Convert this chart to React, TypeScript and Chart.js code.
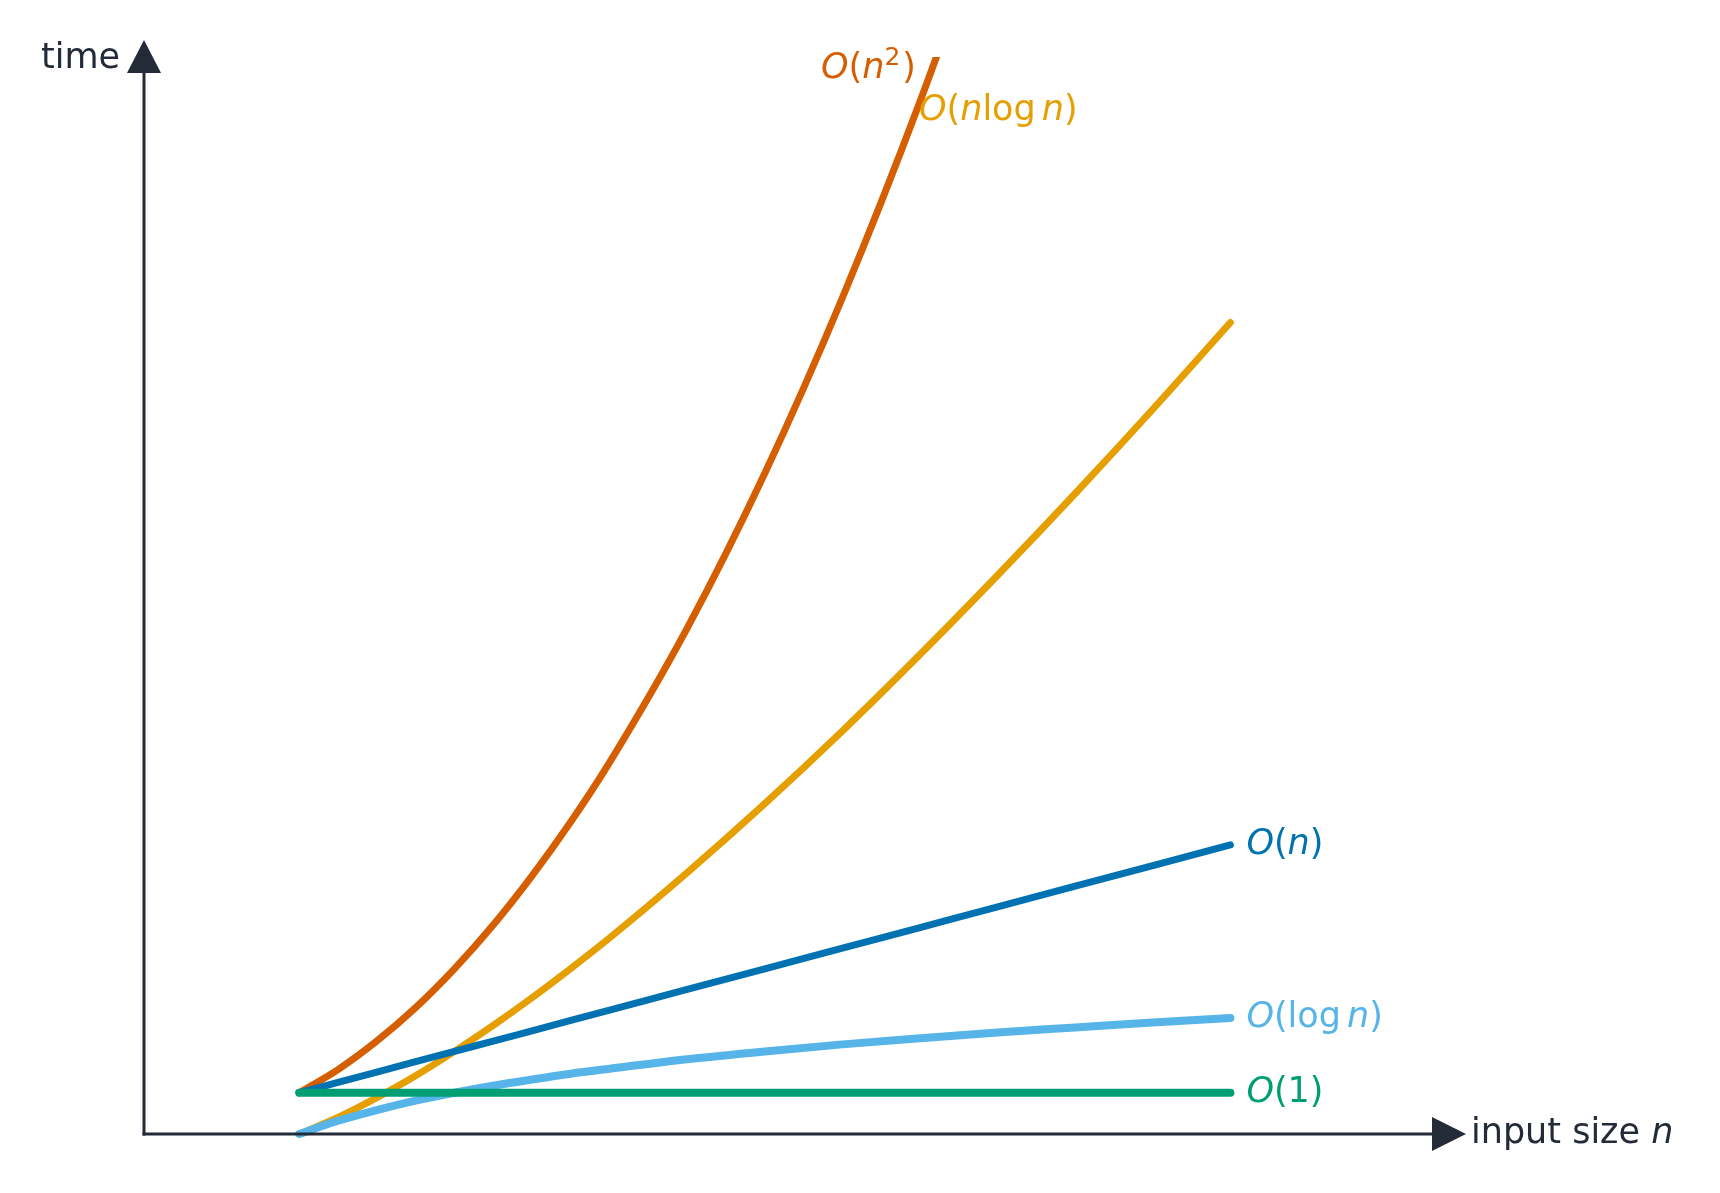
import React, { useEffect, useRef } from "react";
import { Chart, registerables } from "chart.js";

Chart.register(...registerables);

// input sizes n
const nValues = [1, 1.25, 1.5, 1.75, 2, 2.25, 2.5, 2.75, 3, 3.5, 4, 4.5, 5, 5.5, 6, 6.5, 7];
// time values
const constantTime = [1, 1, 1, 1, 1, 1, 1, 1, 1, 1, 1, 1, 1, 1, 1, 1, 1];
const logTime = [0, 0.32, 0.58, 0.81, 1, 1.17, 1.32, 1.46, 1.58, 1.81, 2, 2.17, 2.32, 2.46, 2.58, 2.7, 2.81];
const linearTime = [1, 1.25, 1.5, 1.75, 2, 2.25, 2.5, 2.75, 3, 3.5, 4, 4.5, 5, 5.5, 6, 6.5, 7];
const nLogTime = [0, 0.4, 0.88, 1.41, 2, 2.63, 3.3, 4.01, 4.75, 6.33, 8, 9.76, 11.61, 13.53, 15.51, 17.55, 19.65];
const quadTime = [1, 1.56, 2.25, 3.06, 4, 5.06, 6.25, 7.56, 9, 12.25, 16, 20.25, 25, 30.25];

const xMax = 8;
const yMax = 26.08;

const AXIS = "#232b39";
const C_QUAD = "#D55E00";
const C_NLOG = "#E69F00";
const C_LIN = "#0072B2";
const C_LOG = "#56B4E9";
const C_CONST = "#009E73";

const FONT = '"DejaVu Sans", sans-serif';
const FS = 35;

type Seg = { t: string; it?: boolean; sup?: boolean; gap?: number };

function drawSegs(ctx: CanvasRenderingContext2D, segs: Seg[], x: number, y: number, color: string, align: "left" | "right" = "left") {
  ctx.save();
  ctx.fillStyle = color;
  ctx.textBaseline = "alphabetic";
  ctx.textAlign = "left";
  const fontFor = (s: Seg) => `${s.it ? "italic " : ""}${s.sup ? Math.round(FS * 0.7) : FS}px ${FONT}`;
  let total = 0;
  for (const s of segs) {
    ctx.font = fontFor(s);
    total += ctx.measureText(s.t).width + (s.gap || 0);
  }
  let cx = align === "right" ? x - total : x;
  for (const s of segs) {
    ctx.font = fontFor(s);
    ctx.fillText(s.t, cx, s.sup ? y - FS * 0.38 : y);
    cx += ctx.measureText(s.t).width + (s.gap || 0);
  }
  ctx.restore();
}

const decorations = {
  id: "decorations",
  afterDraw(chart: any) {
    const ctx: CanvasRenderingContext2D = chart.ctx;
    const xs = chart.scales.x;
    const ys = chart.scales.y;
    const x0 = xs.getPixelForValue(0);
    const y0 = ys.getPixelForValue(0);
    ctx.save();
    ctx.strokeStyle = AXIS;
    ctx.fillStyle = AXIS;
    ctx.lineWidth = 3;
    ctx.lineCap = "butt";
    // y axis
    ctx.beginPath();
    ctx.moveTo(x0, y0 + 1.5);
    ctx.lineTo(x0, 70);
    ctx.stroke();
    ctx.beginPath();
    ctx.moveTo(x0, 40);
    ctx.lineTo(x0 - 17, 73);
    ctx.lineTo(x0 + 17, 73);
    ctx.closePath();
    ctx.fill();
    // x axis
    ctx.beginPath();
    ctx.moveTo(x0 - 1.5, y0);
    ctx.lineTo(1434, y0);
    ctx.stroke();
    ctx.beginPath();
    ctx.moveTo(1466, y0);
    ctx.lineTo(1432, y0 - 17);
    ctx.lineTo(1432, y0 + 17);
    ctx.closePath();
    ctx.fill();
    ctx.restore();

    drawSegs(ctx, [{ t: "time" }], 41, 68, AXIS);
    drawSegs(ctx, [{ t: "input size " }, { t: "n", it: true }], 1471, 1143, AXIS);

    const lastX = xs.getPixelForValue(nValues[nValues.length - 1]) + 16;
    const by = (v: number) => ys.getPixelForValue(v) + 9;
    drawSegs(ctx, [{ t: "O", it: true }, { t: "(" }, { t: "n", it: true }, { t: ")" }], lastX, by(linearTime[linearTime.length - 1]), C_LIN);
    drawSegs(ctx, [{ t: "O", it: true }, { t: "(log", gap: 6 }, { t: "n", it: true }, { t: ")" }], lastX, by(logTime[logTime.length - 1]), C_LOG);
    drawSegs(ctx, [{ t: "O", it: true }, { t: "(1)" }], lastX, by(constantTime[constantTime.length - 1]), C_CONST);
    drawSegs(ctx, [{ t: "O", it: true }, { t: "(" }, { t: "n", it: true }, { t: "2", sup: true, gap: 2 }, { t: ")" }], 916, 78, C_QUAD, "right");
    drawSegs(ctx, [{ t: "O", it: true }, { t: "(" }, { t: "n", it: true }, { t: "log", gap: 6 }, { t: "n", it: true }, { t: ")" }], 919, 120, C_NLOG);
  },
};

function series(ys: number[], color: string, width: number) {
  return {
    data: ys.map((y, i) => ({ x: nValues[i], y })),
    borderColor: color,
    backgroundColor: color,
    borderWidth: width,
    borderCapStyle: "round" as const,
    borderJoinStyle: "round" as const,
    pointRadius: 0,
    pointHoverRadius: 0,
    cubicInterpolationMode: "monotone" as const,
    fill: false,
    clip: { left: 10, right: 10, top: 0, bottom: 10 },
  };
}

export default function App() {
  const ref = useRef<HTMLCanvasElement | null>(null);
  useEffect(() => {
    if (!ref.current) return;
    const chart = new Chart(ref.current, {
      type: "line",
      data: {
        datasets: [
          series(constantTime, C_CONST, 8),
          series(logTime, C_LOG, 8),
          series(linearTime, C_LIN, 7),
          series(nLogTime, C_NLOG, 7),
          series(quadTime, C_QUAD, 7),
        ],
      },
      options: {
        responsive: false,
        animation: false,
        events: [],
        layout: { padding: { left: 144, top: 57, right: 1720 - (144 + 155.2 * xMax), bottom: 1193 - 1134 } },
        scales: {
          x: { type: "linear", min: 0, max: xMax, display: false },
          y: { type: "linear", min: 0, max: yMax, display: false },
        },
        plugins: { legend: { display: false }, tooltip: { enabled: false } },
      },
      plugins: [decorations],
    });
    return () => chart.destroy();
  }, []);
  return (
    <div style={{ position: "fixed", left: 0, top: 0, width: 1720, height: 1193, background: "#fff" }}>
      <canvas ref={ref} width={1720} height={1193} style={{ display: "block" }} />
    </div>
  );
}
